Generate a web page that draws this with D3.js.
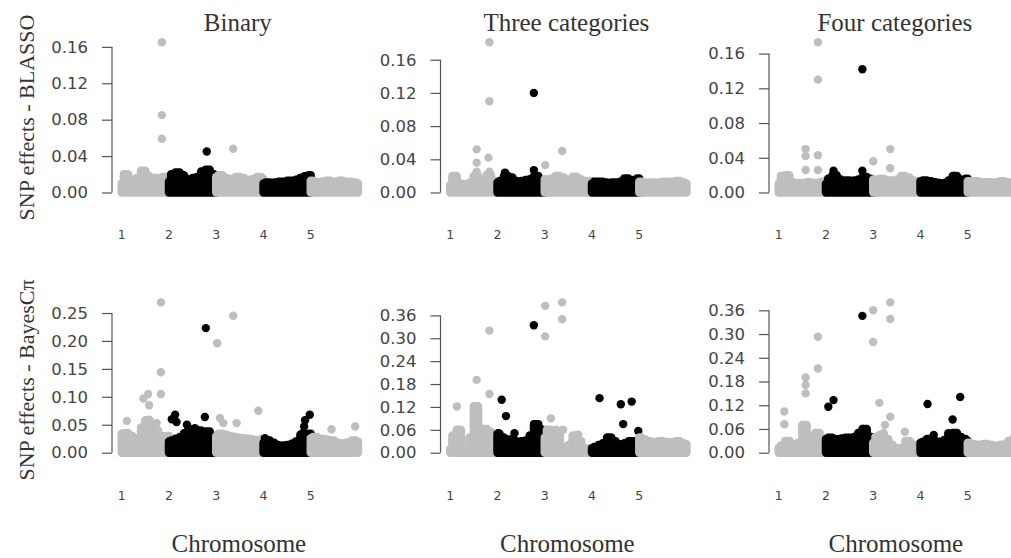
<!DOCTYPE html>
<html>
<head>
<meta charset="utf-8">
<script src="https://cdn.jsdelivr.net/npm/d3@7/dist/d3.min.js"></script>
<style>
  body { margin: 0; background: #fff; }
</style>
</head>
<body>
<div id="chart"></div>
<script>
const chromosomes = ["1", "2", "3", "4", "5"];
const traits = ["Binary", "Three categories", "Four categories"];
const methods = ["BLASSO", "BayesCπ"];

const ticksBlasso = [0, 0.04, 0.08, 0.12, 0.16];
const ticksBayesBinary = [0, 0.05, 0.10, 0.15, 0.20, 0.25];
const ticksBayesMulti = [0, 0.06, 0.12, 0.18, 0.24, 0.30, 0.36];

// top of the dense SNP band, 12 readings along each chromosome
const bandBinaryBlasso = [
  [0.010, 0.020, 0.014, 0.012, 0.016, 0.024, 0.018, 0.015, 0.016, 0.015, 0.017, 0.016],
  [0.012, 0.020, 0.022, 0.019, 0.015, 0.014, 0.016, 0.017, 0.023, 0.025, 0.020, 0.016],
  [0.017, 0.019, 0.016, 0.015, 0.014, 0.017, 0.016, 0.014, 0.013, 0.015, 0.017, 0.015],
  [0.010, 0.011, 0.010, 0.011, 0.012, 0.012, 0.013, 0.013, 0.014, 0.016, 0.018, 0.019],
  [0.013, 0.012, 0.011, 0.012, 0.013, 0.011, 0.012, 0.013, 0.011, 0.012, 0.011, 0.010]
];
const bandThreeBlasso = [
  [0.009, 0.020, 0.011, 0.009, 0.010, 0.012, 0.020, 0.013, 0.012, 0.021, 0.014, 0.012],
  [0.012, 0.014, 0.020, 0.018, 0.014, 0.013, 0.014, 0.015, 0.016, 0.020, 0.015, 0.013],
  [0.016, 0.015, 0.017, 0.020, 0.018, 0.015, 0.014, 0.019, 0.016, 0.014, 0.013, 0.014],
  [0.011, 0.013, 0.013, 0.012, 0.011, 0.012, 0.012, 0.013, 0.017, 0.015, 0.014, 0.017],
  [0.013, 0.012, 0.011, 0.012, 0.011, 0.012, 0.013, 0.012, 0.013, 0.014, 0.012, 0.011]
];
const bandFourBlasso = [
  [0.010, 0.019, 0.020, 0.012, 0.010, 0.011, 0.010, 0.012, 0.011, 0.010, 0.012, 0.013],
  [0.010, 0.016, 0.020, 0.015, 0.013, 0.014, 0.013, 0.014, 0.015, 0.018, 0.016, 0.012],
  [0.015, 0.014, 0.016, 0.013, 0.014, 0.013, 0.015, 0.019, 0.017, 0.014, 0.013, 0.013],
  [0.013, 0.014, 0.013, 0.012, 0.011, 0.010, 0.011, 0.014, 0.019, 0.015, 0.014, 0.016],
  [0.013, 0.012, 0.013, 0.011, 0.012, 0.012, 0.011, 0.012, 0.013, 0.012, 0.011, 0.012]
];
const bandBinaryBayes = [
  [0.034, 0.035, 0.030, 0.024, 0.026, 0.045, 0.058, 0.050, 0.040, 0.030, 0.028, 0.030],
  [0.020, 0.022, 0.025, 0.028, 0.035, 0.042, 0.038, 0.040, 0.035, 0.038, 0.030, 0.025],
  [0.030, 0.034, 0.032, 0.030, 0.028, 0.027, 0.026, 0.025, 0.024, 0.022, 0.023, 0.024],
  [0.018, 0.022, 0.018, 0.014, 0.012, 0.013, 0.014, 0.016, 0.020, 0.026, 0.030, 0.034],
  [0.026, 0.028, 0.025, 0.024, 0.023, 0.022, 0.018, 0.016, 0.017, 0.019, 0.022, 0.020]
];
const bandThreeBayes = [
  [0.010, 0.045, 0.060, 0.012, 0.010, 0.040, 0.122, 0.060, 0.062, 0.055, 0.045, 0.030],
  [0.050, 0.040, 0.032, 0.035, 0.030, 0.028, 0.030, 0.032, 0.045, 0.075, 0.060, 0.030],
  [0.040, 0.060, 0.050, 0.045, 0.015, 0.012, 0.020, 0.045, 0.030, 0.012, 0.010, 0.012],
  [0.012, 0.015, 0.020, 0.025, 0.040, 0.030, 0.022, 0.020, 0.025, 0.030, 0.028, 0.032],
  [0.040, 0.035, 0.030, 0.028, 0.025, 0.030, 0.028, 0.025, 0.028, 0.030, 0.025, 0.022]
];
const bandFourBayes = [
  [0.012, 0.018, 0.030, 0.022, 0.020, 0.025, 0.070, 0.040, 0.030, 0.050, 0.035, 0.030],
  [0.035, 0.038, 0.032, 0.034, 0.036, 0.038, 0.035, 0.040, 0.050, 0.060, 0.040, 0.030],
  [0.025, 0.040, 0.045, 0.035, 0.020, 0.012, 0.010, 0.012, 0.030, 0.015, 0.020, 0.015],
  [0.025, 0.028, 0.035, 0.030, 0.025, 0.028, 0.032, 0.045, 0.050, 0.040, 0.035, 0.030],
  [0.025, 0.022, 0.020, 0.018, 0.022, 0.020, 0.018, 0.016, 0.020, 0.018, 0.030, 0.035]
];

// single SNPs standing out of the band: [genome position in chromosomes, effect]
const peaksBinaryBlasso = [[0.85, 0.165], [0.85, 0.085], [0.85, 0.059], [1.80, 0.045], [2.36, 0.048]];
const peaksThreeBlasso = [[0.56, 0.052], [0.56, 0.036], [0.56, 0.025], [0.81, 0.042], [0.83, 0.181],
  [0.83, 0.110], [0.83, 0.025], [1.16, 0.024], [1.77, 0.120], [1.77, 0.027], [2.01, 0.033], [2.37, 0.050]];
const peaksFourBlasso = [[0.57, 0.050], [0.57, 0.042], [0.57, 0.026], [0.83, 0.173], [0.83, 0.130],
  [0.83, 0.043], [0.83, 0.026], [1.16, 0.025], [1.77, 0.142], [1.77, 0.025], [2.00, 0.036],
  [2.36, 0.050], [2.36, 0.028]];
const peaksBinaryBayes = [[0.11, 0.057], [0.46, 0.097], [0.56, 0.105], [0.58, 0.085], [0.58, 0.059],
  [0.74, 0.053], [0.83, 0.269], [0.83, 0.144], [0.83, 0.105], [1.06, 0.060], [1.13, 0.068],
  [1.16, 0.055], [1.38, 0.050], [1.55, 0.044], [1.76, 0.064], [1.78, 0.223], [2.02, 0.196],
  [2.08, 0.062], [2.15, 0.053], [2.36, 0.245], [2.43, 0.053], [2.89, 0.075], [3.03, 0.026],
  [3.78, 0.032], [3.83, 0.035], [3.86, 0.047], [3.88, 0.058], [3.98, 0.068], [4.44, 0.042], [4.94, 0.047]];
const peaksThreeBayes = [[0.14, 0.121], [0.56, 0.191], [0.83, 0.320], [0.83, 0.154], [1.02, 0.051],
  [1.09, 0.139], [1.18, 0.096], [1.36, 0.051], [1.77, 0.334], [1.78, 0.073], [2.01, 0.385],
  [2.01, 0.305], [2.13, 0.090], [2.25, 0.060], [2.37, 0.394], [2.37, 0.350], [2.39, 0.060],
  [2.71, 0.047], [3.16, 0.143], [3.61, 0.127], [3.66, 0.075], [3.84, 0.134], [3.98, 0.057]];
const peaksFourBayes = [[0.12, 0.104], [0.12, 0.072], [0.57, 0.190], [0.57, 0.171], [0.57, 0.150],
  [0.83, 0.293], [0.83, 0.213], [1.05, 0.116], [1.16, 0.133], [1.77, 0.346], [1.78, 0.060],
  [2.00, 0.360], [2.00, 0.280], [2.13, 0.126], [2.25, 0.070], [2.22, 0.049], [2.36, 0.380],
  [2.36, 0.338], [2.36, 0.091], [2.67, 0.053], [3.15, 0.123], [3.28, 0.045], [3.59, 0.049],
  [3.68, 0.084], [3.84, 0.141]];

const panels = [
  { row: 0, col: 0, band: bandBinaryBlasso, peaks: peaksBinaryBlasso, ticks: ticksBlasso },
  { row: 0, col: 1, band: bandThreeBlasso, peaks: peaksThreeBlasso, ticks: ticksBlasso },
  { row: 0, col: 2, band: bandFourBlasso, peaks: peaksFourBlasso, ticks: ticksBlasso },
  { row: 1, col: 0, band: bandBinaryBayes, peaks: peaksBinaryBayes, ticks: ticksBayesBinary },
  { row: 1, col: 1, band: bandThreeBayes, peaks: peaksThreeBayes, ticks: ticksBayesMulti },
  { row: 1, col: 2, band: bandFourBayes, peaks: peaksFourBayes, ticks: ticksBayesMulti }
];

const W = 1011, H = 558;
const colStep = 328.5;
const rowBase = [192.5, 452.7], rowTop = [42.3, 302.4];
const R = 4.2;
const gray = "#bebebe", dark = "#000";
const serif = "'Liberation Serif', 'Times New Roman', serif";
const sans = "'DejaVu Sans', sans-serif";

const svg = d3.select("#chart").append("svg")
  .attr("width", W)
  .attr("height", H);

const colorOf = k => (k % 2 === 1 ? dark : gray);

panels.forEach(p => {
  const off = p.col * colStep;
  const x = d3.scaleLinear().domain([0, chromosomes.length]).range([121.7 + off, 358 + off]);
  const yMax = d3.max([d3.max(p.band.flat()), d3.max(p.peaks, d => d[1])]);
  const y = d3.scaleLinear().domain([0, yMax]).range([rowBase[p.row], rowTop[p.row]]);

  const g = svg.append("g");

  // Y axis: line only spans the tick range, like base R
  const axisX = 112 + off;
  const yAxis = g.append("g")
    .attr("transform", `translate(${axisX},0)`)
    .call(d3.axisLeft(y).tickValues(p.ticks).tickSize(10).tickPadding(14).tickFormat(d3.format(".2f")));
  yAxis.select(".domain").remove();
  yAxis.selectAll(".tick line").attr("stroke", "#555").attr("stroke-width", 1.2);
  yAxis.selectAll(".tick text")
    .attr("fill", "#444")
    .style("font-family", sans)
    .style("font-size", "16.5px");
  g.append("line")
    .attr("x1", axisX).attr("x2", axisX)
    .attr("y1", y(0)).attr("y2", y(p.ticks[p.ticks.length - 1]))
    .attr("stroke", "#555").attr("stroke-width", 1.2);

  // chromosome labels (no axis line)
  g.selectAll(".chr-label")
    .data(chromosomes)
    .enter().append("text")
    .attr("class", "chr-label")
    .attr("x", (d, i) => x(i))
    .attr("y", p.row === 0 ? 238.5 : 500)
    .attr("text-anchor", "middle")
    .attr("fill", "#444")
    .style("font-family", sans)
    .style("font-size", "12.5px")
    .text(d => d);

  const area = d3.area()
    .curve(d3.curveStep)
    .x(d => x(d[0]))
    .y0(y(0))
    .y1(d => y(d[1]));

  // chromosomes drawn in order, each band followed by its standout SNPs
  p.band.forEach((vals, k) => {
    const pts = vals.map((v, j) => [k + j / (vals.length - 1), v]);
    const col = colorOf(k);
    g.append("path")
      .datum(pts)
      .attr("d", area)
      .attr("fill", col)
      .attr("stroke", col)
      .attr("stroke-width", 2 * R)
      .attr("stroke-linejoin", "round");

    g.selectAll(null)
      .data(p.peaks.filter(d => Math.min(chromosomes.length - 1, Math.floor(d[0])) === k))
      .enter().append("circle")
      .attr("cx", d => x(d[0]))
      .attr("cy", d => y(d[1]))
      .attr("r", R)
      .attr("fill", col);
  });

  if (p.row === 0) {
    g.append("text")
      .attr("x", (x.range()[0] + x.range()[1]) / 2 - 2)
      .attr("y", 31)
      .attr("text-anchor", "middle")
      .attr("fill", "#333")
      .style("font-family", serif)
      .style("font-size", "25px")
      .text(traits[p.col]);
  } else {
    g.append("text")
      .attr("x", (x.range()[0] + x.range()[1]) / 2 - 1)
      .attr("y", 552)
      .attr("text-anchor", "middle")
      .attr("fill", "#333")
      .style("font-family", serif)
      .style("font-size", "25px")
      .text("Chromosome");
  }

  if (p.col === 0) {
    const cy = p.row === 0 ? 117.5 : 380;
    g.append("text")
      .attr("transform", `translate(34,${cy}) rotate(-90)`)
      .attr("text-anchor", "middle")
      .attr("fill", "#333")
      .style("font-family", serif)
      .style("font-size", "22px")
      .text("SNP effects - " + methods[p.row]);
  }
});
</script>
</body>
</html>
